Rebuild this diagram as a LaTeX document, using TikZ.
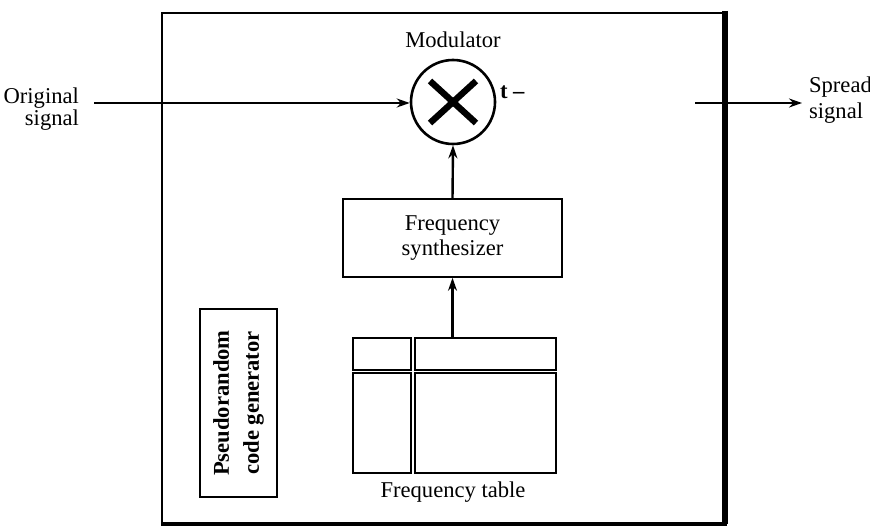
\documentclass[tikz,border=0pt]{standalone}
\usepackage{fontspec}
\setmainfont{Liberation Serif}
\usetikzlibrary{positioning,arrows.meta}

\begin{document}
\begin{tikzpicture}[
  x=0.5pt, y=-0.5pt,
  font=\fontsize{11.3}{14}\selectfont,
  >={Stealth[length=6.5pt,width=4.5pt]},
  box/.style={draw, line width=0.8pt, inner sep=0pt, align=center},
  cell/.style={draw, line width=0.8pt, inner sep=0pt, anchor=north west},
  wire/.style={line width=1.2pt}
]
\useasboundingbox (0,0) rectangle (870,529);
% frame
\draw[line width=0.8pt] (725,13) -- (162,13) -- (162,524);
\draw[line width=3pt] (725,11) -- (725,524);
\draw[line width=1.6pt] (161,524) -- (726.5,524);
% modulator
\node[circle, draw, line width=1.3pt, minimum size=42pt, inner sep=0pt] (mod) at (453,102) {};
\draw[line width=3.2pt] ([shift={(-23,-21)}]mod.center) -- ([shift={(23,21)}]mod.center);
\draw[line width=3.2pt] ([shift={(-23,21)}]mod.center) -- ([shift={(23,-21)}]mod.center);
\node (modlbl) at (453,40) {Modulator};
\node[anchor=west, font=\fontsize{11.3}{14}\selectfont\bfseries] (tmark) at (493,92) {t --};
% frequency synthesizer
\node[box, minimum width=109.5pt, minimum height=39pt, font=\fontsize{11.3}{12.5}\selectfont] (synth) at (452.5,238) {Frequency\\synthesizer};
% frequency table
\node[cell, minimum width=29pt, minimum height=16pt] (tl) at (352,337) {};
\node[cell, minimum width=70.5pt, minimum height=16pt] (tr) at (414,337) {};
\node[cell, minimum width=29pt, minimum height=50pt] (bl) at (352,372) {};
\node[cell, minimum width=70.5pt, minimum height=50pt] (br) at (414,372) {};
\node (tablbl) at (453,492) {Frequency table};
% pseudorandom code generator
\node[box, rotate=90, minimum width=94pt, minimum height=38.5pt, font=\fontsize{11.3}{15}\selectfont\bfseries] (prng) at (238.5,403) {Pseudorandom\\code generator};
% signals
\node[anchor=east, align=right, font=\fontsize{11.3}{10}\selectfont] (inlbl) at (86,109) {Original\\signal};
\node[anchor=west, align=left, font=\fontsize{11.3}{13}\selectfont] (outlbl) at (802,100) {Spread\\signal};
\coordinate (instart) at (94,103);
\coordinate (outstart) at (695,103);
\draw[wire, ->] (instart) -- (mod.west |- instart);
\draw[wire, ->] (outstart) -- (outlbl.west |- outstart);
\draw[wire, ->] (synth.north) -- (mod.south);
\draw[wire, ->] (synth.south |- tr.north) -- (synth.south);
\end{tikzpicture}
\end{document}
